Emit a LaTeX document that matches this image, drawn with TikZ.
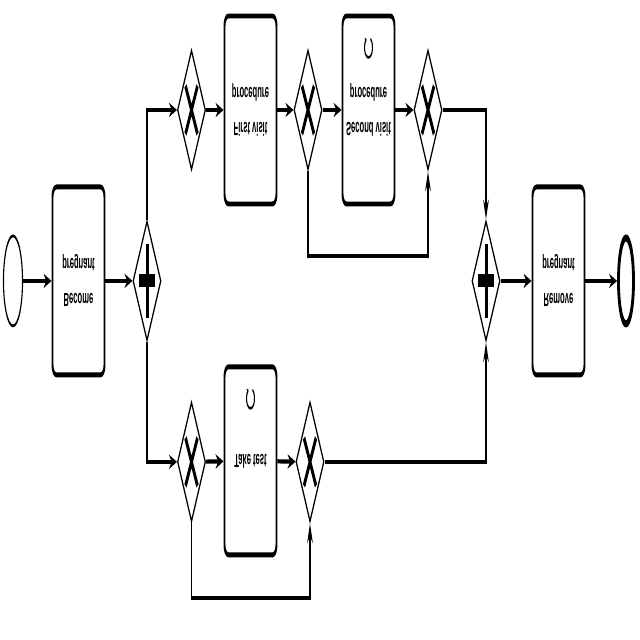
\documentclass[tikz,border=0pt]{standalone}
\usepackage{fontspec}
\setmainfont{Liberation Sans}
\usetikzlibrary{shapes.geometric, arrows.meta, calc}

\begin{document}
\begin{tikzpicture}[
  task/.style={draw, rounded corners=7pt, line width=3.5pt, minimum width=3.25cm, minimum height=4.7cm, align=center, font=\fontsize{13.5}{25}\selectfont\bfseries},
  gate/.style={draw, diamond, line width=2pt, minimum width=1.75cm, minimum height=3cm, inner sep=0pt},
  event/.style={draw, ellipse, line width=2pt, minimum width=1.19cm, minimum height=2.25cm, inner sep=0pt},
  endevent/.style={draw, ellipse, line width=5pt, minimum width=0.94cm, minimum height=2.15cm, inner sep=0pt},
  arrow/.style={-{Stealth[length=14pt, width=10pt]}, line width=3pt},
  xmark/.style={line width=4.5pt},
  loopmark/.style={line width=1.8pt, -{Stealth[length=3pt, width=5pt]}},
]
\useasboundingbox (0,0) rectangle (16,-16);

\begin{scope}[transform canvas={xscale=0.4, yscale=-1}, x=0.0625cm, y=0.025cm]

% Events and tasks
\node[event] (start) at (13,281) {};
\node[task] (ta) at (78.5,281) {Become\\pregnant};
\node[gate] (pa) at (147,281) {};

\node[gate] (xa) at (191.5,110) {};
\node[task] (tb) at (250.5,110) {First visit\\procedure};
\node[gate] (xb) at (308,110) {};
\node[task] (tc) at (368.5,110) {Second visit\\procedure};
\node[gate] (xc) at (428,110) {};

\node[gate] (xd) at (191.5,462) {};
\node[task] (td) at (250.5,461) {Take test};
\node[gate] (xe) at (310,462) {};

\node[gate] (pb) at (486,281) {};
\node[task] (te) at (558.5,281) {Remove\\pregnant};
\node[endevent] (end) at (626,281) {};

% Gateway markers
\foreach \g in {xa,xb,xc,xd,xe}
  \draw[xmark] ($(\g)+(-6,-24)$) -- ($(\g)+(6,24)$) ($(\g)+(-6,24)$) -- ($(\g)+(6,-24)$);
\foreach \g in {pa,pb} {
  \fill ($(\g)+(-1.5,-37)$) rectangle ($(\g)+(1.5,37)$);
  \fill ($(\g)+(-8,-6.5)$) rectangle ($(\g)+(8,6.5)$);
}

% Loop markers
\foreach \t in {tc,td}
  \draw[loopmark] ($(\t.south)+(0,34)$) ++(-60:4 and 10) arc[start angle=-60, end angle=240, x radius=4, y radius=10];

% Flows
\draw[arrow] (start) -- (ta);
\draw[arrow] (ta) -- (pa);
\draw[arrow] (pa.south) |- (xa);
\draw[arrow] (pa.north) |- (xd);
\draw[arrow] (xa) -- (tb);
\draw[arrow] (tb) -- (xb);
\draw[arrow] (xb) -- (tc);
\draw[arrow] (tc) -- (xc);
\draw[arrow] (xb.north) -- ++(0,85) -| (xc.north);
\draw[arrow] (xd) -- (td);
\draw[arrow] (td) -- (xe);
\draw[arrow] (xd.north) -- ++(0,75) -| (xe.north);
\draw[arrow] (xc) -| (pb.south);
\draw[arrow] (xe) -| (pb.north);
\draw[arrow] (pb) -- (te);
\draw[arrow] (te) -- (end);

\end{scope}
\end{tikzpicture}
\end{document}
